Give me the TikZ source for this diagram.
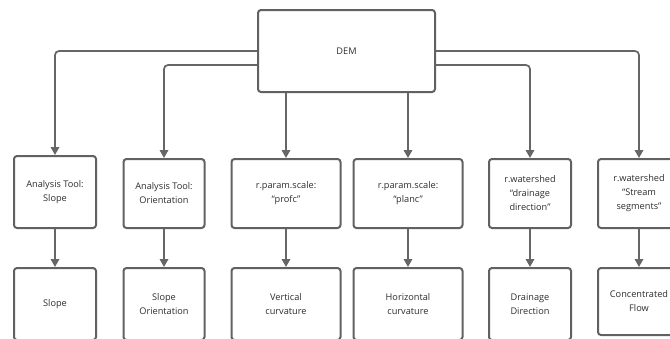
\documentclass[tikz,border=0pt]{standalone}
\usepackage{fontspec}
\setmainfont{Open Sans}
\usetikzlibrary{arrows.meta}

\tikzset{
  box/.style={draw=black!62, line width=2pt, rounded corners=3pt, fill=white,
    align=center, text=black!82, inner sep=2pt,
    font=\fontsize{9.2}{14}\selectfont},
  link/.style={draw=black!60, line width=1.7pt, rounded corners=4pt,
    -{Triangle[width=8.5pt,length=8pt]}},
}

\begin{document}
\begin{tikzpicture}[x=1pt,y=-1pt]
		%%%%% FRAME %%%%%
		\useasboundingbox (0, 0) rectangle (670, 338);
		
		%%%%% SOURCE %%%%%
		\node[box, minimum width=177pt, minimum height=82pt] (dem) at (346.5, 51) {DEM};
		
		%%%%% TOOLS %%%%%
		\node[box, minimum width=82pt, minimum height=72pt] (tool1) at (55, 192) {Analysis Tool:\\Slope};
		\node[box, minimum width=81pt, minimum height=69pt] (tool2) at (164, 193.5) {Analysis Tool:\\Orientation};
		\node[box, minimum width=109pt, minimum height=69pt] (tool3) at (286, 193.5) {r.param.scale:\\“profc”};
		\node[box, minimum width=109pt, minimum height=69pt] (tool4) at (408, 193.5) {r.param.scale:\\“planc”};
		\node[box, minimum width=82pt, minimum height=69pt] (tool5) at (530, 193.5) {r.watershed\\“drainage\\direction”};
		\node[box, minimum width=82pt, minimum height=69pt] (tool6) at (639, 193.5) {r.watershed\\“Stream\\segments”};
		
		%%%%% RESULTS %%%%%
		\node[box, minimum width=82pt, minimum height=72pt] (out1) at (55, 304) {Slope};
		\node[box, minimum width=81pt, minimum height=72pt] (out2) at (164, 304) {Slope\\Orientation};
		\node[box, minimum width=109pt, minimum height=72pt] (out3) at (286, 304) {Vertical\\curvature};
		\node[box, minimum width=109pt, minimum height=72pt] (out4) at (408, 304) {Horizontal\\curvature};
		\node[box, minimum width=82pt, minimum height=72pt] (out5) at (530, 304) {Drainage\\Direction};
		\node[box, minimum width=82pt, minimum height=67pt] (out6) at (639, 301.5) {Concentrated\\Flow};
		
		%%%%% LINKS %%%%%
		\draw[link] (dem.west) -| (tool1.north);
		\draw[link] ([yshift=-14pt]dem.west) -| (tool2.north);
		\draw[link] (tool3.north |- dem.south) -- (tool3.north);
		\draw[link] (tool4.north |- dem.south) -- (tool4.north);
		\draw[link] ([yshift=-14pt]dem.east) -| (tool5.north);
		\draw[link] (dem.east) -| (tool6.north);
		
		\foreach \i in {1,...,6}
			\draw[link] (tool\i.south) -- (out\i.north);
		
		%%%%% END %%%%%
\end{tikzpicture}
\end{document}
